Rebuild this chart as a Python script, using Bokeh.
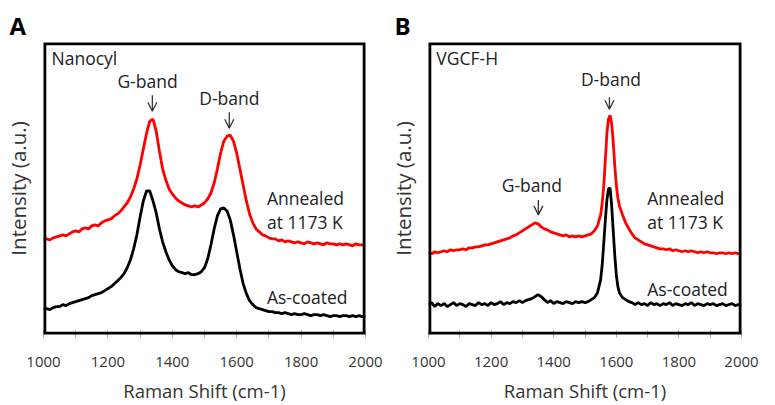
from bokeh.plotting import figure
from bokeh.layouts import row
from bokeh.models import Range1d, Label, Arrow, OpenHead, FixedTicker, BoxAnnotation, Title
from bokeh.embed import file_html
from bokeh.resources import INLINE

# ---------------- data (arbitrary units) ----------------
# Panel A: Nanocyl, x every 10 cm-1 from 1000 to 2000
nano_x = list(range(1000, 2001, 10))
nano_annealed = [
    95, 96, 95, 97, 98, 99, 100, 99, 101, 103,
    104, 103, 106, 107, 106, 109, 110, 109, 112, 114,
    115, 116, 119, 121, 124, 128, 132, 138, 146, 156,
    170, 186, 202, 214, 216, 204, 184, 166, 155, 146,
    141, 137, 134, 132, 130, 129, 128, 129, 128, 130,
    132, 136, 142, 152, 166, 182, 194, 199, 200, 194,
    182, 166, 150, 134, 121, 112, 106, 103, 100, 99,
    97, 96, 96, 94, 95, 93, 94, 93, 92, 93,
    92, 91, 93, 92, 91, 92, 91, 90, 92, 91,
    91, 90, 91, 90, 91, 90, 89, 91, 90, 90,
    90,
]
nano_coated = [
    25, 26, 25, 27, 28, 28, 30, 29, 31, 32,
    33, 34, 35, 36, 37, 39, 40, 41, 42, 44,
    46, 48, 51, 54, 57, 61, 67, 75, 86, 100,
    118, 134, 144, 144, 134, 122, 106, 93, 83, 75,
    69, 65, 63, 62, 61, 62, 60, 60, 61, 63,
    67, 76, 90, 106, 119, 126, 127, 124, 115, 100,
    83, 66, 51, 41, 34, 30, 27, 26, 25, 24,
    23, 23, 22, 22, 21, 22, 21, 20, 21, 20,
    20, 21, 20, 19, 20, 20, 19, 20, 19, 18,
    19, 19, 18, 19, 19, 18, 19, 18, 19, 18,
    19,
]

# Panel B: VGCF-H, denser sampling around the sharp D-band
vgcf_x = (list(range(1000, 1550, 10)) + list(range(1550, 1610, 5))
          + list(range(1610, 2001, 10)))
vgcf_annealed = [
    82, 81, 83, 82, 83, 84, 83, 85, 84, 85,
    85, 86, 85, 87, 87, 88, 88, 89, 90, 90,
    91, 92, 93, 94, 95, 96, 97, 99, 100, 102,
    104, 106, 108, 110, 112, 111, 108, 106, 105, 103,
    102, 101, 100, 99, 100, 98, 99, 98, 99, 98,
    99, 100, 101, 104, 109,
    120, 132, 150, 175, 202, 216, 220, 212, 194, 170, 150, 137,
    129, 120, 112, 106, 101, 97, 95, 93, 91, 90,
    89, 88, 87, 86, 86, 85, 86, 84, 85, 84,
    83, 84, 83, 84, 83, 82, 83, 82, 83, 82,
    82, 81, 82, 82, 81, 82, 81, 82, 81, 82,
]
vgcf_coated = [
    30, 32, 28, 31, 29, 31, 28, 30, 32, 29,
    31, 30, 28, 31, 30, 29, 32, 30, 31, 29,
    32, 30, 31, 33, 30, 32, 31, 33, 32, 34,
    32, 34, 35, 36, 38, 40, 38, 35, 32, 34,
    31, 33, 32, 31, 33, 32, 31, 33, 32, 33,
    32, 33, 35, 37, 42,
    55, 70, 92, 115, 135, 146, 147, 130, 105, 80, 60, 48,
    42, 37, 35, 33, 32, 30, 32, 30, 31, 29,
    32, 30, 31, 29, 31, 30, 32, 29, 31, 30,
    29, 31, 30, 32, 29, 31, 30, 29, 31, 30,
    31, 29, 30, 31, 29, 30, 31, 29, 30, 30,
]

x_ticks = [1000, 1200, 1400, 1600, 1800, 2000]
x_minor = [1100, 1300, 1500, 1700, 1900]

FONT = "Open Sans"
RED = "#ff0000"
ANN = "17.5px"
TXT = "#222222"


def make_panel(letter, sample, xs, annealed, coated, width, border_right,
               band_labels, band_arrows, ann_x, ann_y1, ann_y2, coat_y):
    p = figure(width=width, height=405, output_backend="svg",
               toolbar_location=None, x_range=Range1d(1000, 2000),
               y_range=Range1d(0, 293), min_border_left=40,
               min_border_right=border_right, min_border_top=42,
               min_border_bottom=70)
    p.background_fill_color = "white"
    p.border_fill_color = "white"
    p.grid.visible = False
    p.outline_line_color = None
    p.title.visible = False

    t = Title(text=letter, align="left", offset=-34, standoff=1,
              text_font=FONT, text_font_size="24px",
              text_font_style="bold", text_color="black")
    p.add_layout(t, "above")

    ax = p.xaxis[0]
    ax.ticker = FixedTicker(ticks=x_ticks, minor_ticks=x_minor)
    ax.axis_line_color = None
    ax.major_tick_line_color = "#a0a0a0"
    ax.minor_tick_line_color = "#a0a0a0"
    ax.major_tick_in = 4
    ax.major_tick_out = 3
    ax.minor_tick_in = 4
    ax.minor_tick_out = 3
    ax.major_label_text_font = FONT
    ax.major_label_text_font_size = "15px"
    ax.major_label_text_color = "#333333"
    ax.major_label_standoff = 19
    ax.axis_label = "Raman Shift (cm-1)"
    ax.axis_label_text_font = FONT
    ax.axis_label_text_font_size = "18.5px"
    ax.axis_label_text_font_style = "normal"
    ax.axis_label_text_color = "#333333"
    ax.axis_label_standoff = 8

    ay = p.yaxis[0]
    ay.ticker = FixedTicker(ticks=[])
    ay.axis_line_color = None
    ay.major_tick_out = 0
    ay.major_tick_in = 0
    ay.minor_tick_out = 0
    ay.minor_tick_in = 0
    ay.major_label_standoff = 0
    ay.axis_label = "Intensity (a.u.)"
    ay.axis_label_text_font = FONT
    ay.axis_label_text_font_size = "20.5px"
    ay.axis_label_text_font_style = "normal"
    ay.axis_label_text_color = "#333333"
    ay.axis_label_standoff = 12

    p.line(xs, annealed, line_color=RED, line_width=2.8)
    p.line(xs, coated, line_color="black", line_width=2.8)

    # frame border (clipped to the frame: half of the width shows inside)
    p.add_layout(BoxAnnotation(left=1000, right=2000, bottom=0, top=293,
                               fill_alpha=0, line_color="black",
                               line_alpha=1.0, line_width=5.6))

    def lab(x, y, t, align="left"):
        p.add_layout(Label(x=x, y=y, text=t, text_font=FONT,
                           text_font_size=ANN, text_color=TXT,
                           text_align=align, text_baseline="middle"))

    lab(1025, 277, sample)
    for (bx, by, bt) in band_labels:
        lab(bx, by, bt, align="center")
    for (axx, y0, y1) in band_arrows:
        p.add_layout(Arrow(x_start=axx, y_start=y0, x_end=axx, y_end=y1,
                           line_color="#333333", line_width=1.3,
                           end=OpenHead(size=9, line_color="#333333",
                                        line_width=1.3)))
    lab(ann_x, ann_y1, "Annealed")
    lab(ann_x, ann_y2, "at 1173 K")
    lab(ann_x, coat_y, "As-coated")
    return p


pA = make_panel("A", "Nanocyl", nano_x, nano_annealed, nano_coated, 385, 20,
                [(1323, 254, "G-band"), (1577, 237, "D-band")],
                [(1338, 240, 224), (1577, 223, 207)],
                1694, 137, 113, 38)
pB = make_panel("B", "VGCF-H", vgcf_x, vgcf_annealed, vgcf_coated, 376, 20,
                [(1583, 256, "D-band"), (1330, 150, "G-band")],
                [(1578, 238, 226), (1351, 135, 120)],
                1699, 137, 113, 46)

layout = row(pA, pB)
open("out.html", "w").write(file_html(layout, INLINE))
